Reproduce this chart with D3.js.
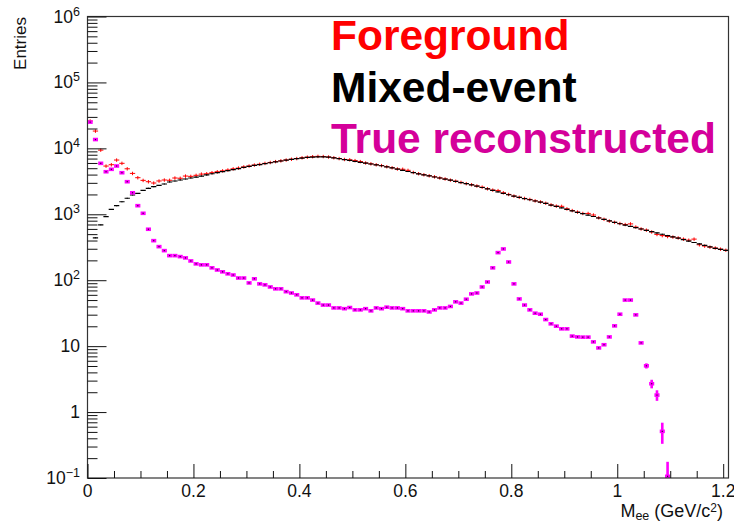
<!DOCTYPE html>
<html>
<head>
<meta charset="utf-8">
<script src="https://cdn.jsdelivr.net/npm/d3@7"></script>
<style>
  html, body { margin: 0; padding: 0; background: #fff; }
  svg { display: block; }
  text { font-family: "Liberation Sans", Arial, Helvetica, sans-serif; }
</style>
</head>
<body>
<svg id="chart" width="734" height="522"></svg>
<script>
// Dielectron invariant-mass spectra, 0.01 GeV/c^2 bins starting at 0
const binWidth = 0.01;

// Foreground (same-event) pairs
const foreground = [
  26000, 18300, 9400, 5390, 5650, 6650, 5930, 4900, 4170, 3590,
  3270, 3120, 2980, 3200, 3310, 3280, 3550, 3520, 3800, 3760,
  3900, 4070, 4120, 4280, 4420, 4560, 4700, 4890, 5020, 5230,
  5400, 5580, 5740, 5920, 6110, 6300, 6470, 6660, 6840, 7010,
  7200, 7350, 7480, 7560, 7520, 7400, 7210, 7010, 6790, 6700,
  6520, 6300, 6010, 5830, 5640, 5480, 5270, 5080, 4870, 4820,
  4640, 4310, 4130, 3980, 3840, 3700, 3560, 3440, 3300, 3180,
  3050, 2920, 2810, 2690, 2580, 2440, 2330, 2290, 2120, 2000,
  1890, 1810, 1740, 1680, 1600, 1540, 1470, 1390, 1330, 1320,
  1210, 1140, 1080, 1030, 1030, 975, 885, 840, 790, 755,
  725, 700, 715, 640, 600, 575, 540, 495, 475, 460,
  452, 438, 420, 405, 420, 345, 330, 318, 308, 296,
  285
];

// Mixed-event background
const mixedEvent = [
  0, 440, 690, 920, 1190, 1350, 1550, 1750, 1960, 2080,
  2310, 2480, 2620, 2750, 2880, 3090, 3200, 3310, 3430, 3550,
  3670, 3800, 3950, 4120, 4270, 4430, 4590, 4760, 4940, 5130,
  5320, 5500, 5680, 5860, 6050, 6240, 6430, 6610, 6790, 6970,
  7130, 7280, 7380, 7450, 7450, 7350, 7160, 6970, 6760, 6550,
  6340, 6150, 5970, 5790, 5620, 5450, 5250, 5050, 4840, 4650,
  4460, 4280, 4110, 3960, 3820, 3680, 3550, 3420, 3290, 3160,
  3030, 2910, 2790, 2670, 2550, 2430, 2310, 2190, 2080, 1980,
  1880, 1800, 1730, 1660, 1590, 1530, 1460, 1380, 1320, 1250,
  1190, 1130, 1070, 1020, 973, 925, 879, 836, 794, 753,
  719, 687, 656, 627, 598, 571, 546, 521, 498, 475,
  454, 434, 413, 393, 373, 355, 337, 321, 305, 294,
  283
];

// True reconstructed pairs
const trueReco = [
  25000, 13600, 5930, 4420, 4810, 5400, 4270, 3120, 2120, 1350,
  1035, 593, 398, 323, 281, 236, 236, 228, 218, 196,
  177, 171, 171, 154, 143, 134, 125, 120, 108, 108,
  91, 105, 88, 85, 79, 74, 74, 67, 64, 60,
  54, 54, 50, 45, 42, 42, 38, 38, 37, 38.5,
  35.5, 35.5, 37, 34.3, 38, 37, 39, 38, 38, 37,
  34.3, 34.3, 34.3, 34.3, 33, 35.5, 38, 38, 40, 47,
  45, 51.5, 62, 64, 79, 94, 154, 262, 298, 189,
  88, 52, 42, 35.5, 31.6, 30.5, 25.3, 21.8, 20.1, 18.3,
  18.3, 14.2, 13.8, 13.7, 13.7, 11.6, 9.4, 10.5, 13.8, 20.3,
  30.5, 50, 50, 29.8, 11.2, 5.03, 2.69, 1.81, 0.51, 0.106
];
// Statistical errors of the true-reconstructed tail bins
const trueErrBins = [105, 106, 107, 108, 109];
const trueErrVals = [0.45, 0.4, 0.33, 0.18, 0.07];

const fgRelErr = 0.06;
const mixRelErr = 0.015;

const xMajorTicks = [0, 0.2, 0.4, 0.6, 0.8, 1, 1.2];
const yMajorTicks = [0.1, 1, 10, 100, 1e3, 1e4, 1e5, 1e6];
const legendLabels = ["Foreground", "Mixed-event", "True reconstructed"];
const legendColors = ["#ff0000", "#000000", "#d4009a"];

const svg = d3.select("#chart");
const L = 87.5, R = 728.5, T = 16.5, B = 478;

const x = d3.scaleLinear().domain([0, 1.21]).range([L, R]);
const y = d3.scaleLog().domain([0.1, 1e6]).range([B, T]);

svg.append("defs").append("clipPath").attr("id", "frame")
  .append("rect").attr("x", L).attr("y", T).attr("width", R - L).attr("height", B - T);

const plot = svg.append("g").attr("clip-path", "url(#frame)");

function bins(arr) {
  return arr.map((v, i) => ({ i, v, lo: i * binWidth, hi: (i + 1) * binWidth, c: (i + 0.5) * binWidth }))
            .filter(d => d.v > 0);
}

// Foreground: thin red error crosses
const fg = plot.append("g").attr("stroke", "#ff0000").attr("stroke-width", 1);
bins(foreground).forEach(d => {
  fg.append("line").attr("x1", x(d.lo)).attr("x2", x(d.hi)).attr("y1", y(d.v)).attr("y2", y(d.v));
  fg.append("line").attr("x1", x(d.c)).attr("x2", x(d.c))
    .attr("y1", y(d.v * (1 + fgRelErr))).attr("y2", y(d.v * (1 - fgRelErr)));
});

// Mixed-event: black bin segments
const mx = plot.append("g").attr("stroke", "#000").attr("stroke-width", 1.2);
bins(mixedEvent).forEach(d => {
  mx.append("line").attr("x1", x(d.lo)).attr("x2", x(d.hi)).attr("y1", y(d.v)).attr("y2", y(d.v));
  mx.append("line").attr("x1", x(d.c)).attr("x2", x(d.c))
    .attr("y1", y(d.v * (1 + mixRelErr))).attr("y2", y(d.v * (1 - mixRelErr)));
});

// True reconstructed: thick magenta bars with a dark centre dot
const tr = plot.append("g");
const trueErr = new Map(trueErrBins.map((b, k) => [b, trueErrVals[k]]));
bins(trueReco).forEach(d => {
  const e = trueErr.get(d.i);
  if (e) {
    const yTop = y(d.v + e);
    const yBot = d.v - e > 0.1 ? y(d.v - e) : B + 2;
    tr.append("rect").attr("x", x(d.c) - 1.3).attr("width", 2.6)
      .attr("y", yTop).attr("height", yBot - yTop).attr("fill", "#ff00ff");
  }
  tr.append("rect").attr("x", x(d.lo) + 0.1).attr("width", x(d.hi) - x(d.lo) - 0.2)
    .attr("y", y(d.v) - 1.8).attr("height", 3.6).attr("fill", "#ff00ff");
  tr.append("rect").attr("x", x(d.c) - 0.6).attr("width", 1.2)
    .attr("y", y(d.v) - 0.6).attr("height", 1.2).attr("fill", "#3a003a");
});

// Frame
svg.append("rect").attr("x", L).attr("y", T).attr("width", R - L).attr("height", B - T)
  .attr("fill", "none").attr("stroke", "#333").attr("stroke-width", 1.2);

// X axis ticks (drawn inside the frame)
const xMinor = d3.range(0, 1.2001, 0.05).filter(v => !xMajorTicks.some(m => Math.abs(m - v) < 1e-6));
const xAxisMajor = d3.axisBottom(x).tickValues(xMajorTicks).tickSize(-14).tickFormat("");
const xAxisMinor = d3.axisBottom(x).tickValues(xMinor).tickSize(-7).tickFormat("");
[xAxisMajor, xAxisMinor].forEach(ax => {
  const g = svg.append("g").attr("transform", `translate(0,${B})`).call(ax);
  g.select(".domain").remove();
  g.selectAll("line").attr("stroke", "#111").attr("stroke-width", 1);
});
svg.append("g").selectAll("text").data(xMajorTicks).join("text")
  .attr("x", d => x(d)).attr("y", 497).attr("text-anchor", "middle")
  .attr("font-size", 17.5).attr("fill", "#111")
  .text(d => d3.format("~g")(d));

// Y axis ticks
const yMinor = [];
for (let p = -1; p < 6; p++) for (let k = 2; k <= 9; k++) yMinor.push(k * Math.pow(10, p));
const yAxisMajor = d3.axisLeft(y).tickValues(yMajorTicks).tickSize(-19).tickFormat("");
const yAxisMinor = d3.axisLeft(y).tickValues(yMinor).tickSize(-10).tickFormat("");
[yAxisMajor, yAxisMinor].forEach(ax => {
  const g = svg.append("g").attr("transform", `translate(${L},0)`).call(ax);
  g.select(".domain").remove();
  g.selectAll("line").attr("stroke", "#111").attr("stroke-width", 1);
});
const yLab = svg.append("g").attr("font-size", 17.5).attr("fill", "#111");
yMajorTicks.forEach(v => {
  const p = Math.round(Math.log10(v));
  const t = yLab.append("text").attr("x", 80).attr("y", y(v) + 6).attr("text-anchor", "end");
  if (p === 0 || p === 1) {
    t.text(String(v));
  } else {
    t.append("tspan").text("10");
    t.append("tspan").attr("font-size", 12.5).attr("dy", -7).text(p < 0 ? "\u2212" + (-p) : String(p));
  }
});

// Axis titles
svg.append("text").attr("transform", "translate(26,17) rotate(-90)")
  .attr("text-anchor", "end").attr("font-size", 17).attr("fill", "#111").text("Entries");

const xt = svg.append("text").attr("x", 723).attr("y", 517).attr("text-anchor", "end")
  .attr("font-size", 18).attr("fill", "#111");
xt.append("tspan").text("M");
xt.append("tspan").attr("font-size", 12.5).attr("dy", 3).text("ee");
xt.append("tspan").attr("dy", -3).text(" (GeV/c");
xt.append("tspan").attr("font-size", 12).attr("dy", -5.5).text("2");
xt.append("tspan").attr("dy", 5.5).text(")");

// Legend text
svg.append("g").selectAll("text").data(legendLabels).join("text")
  .attr("x", 331).attr("y", (d, i) => 50 + i * 51.5)
  .attr("font-size", 42.5).attr("font-weight", "bold")
  .attr("fill", (d, i) => legendColors[i])
  .text(d => d);
</script>
</body>
</html>
